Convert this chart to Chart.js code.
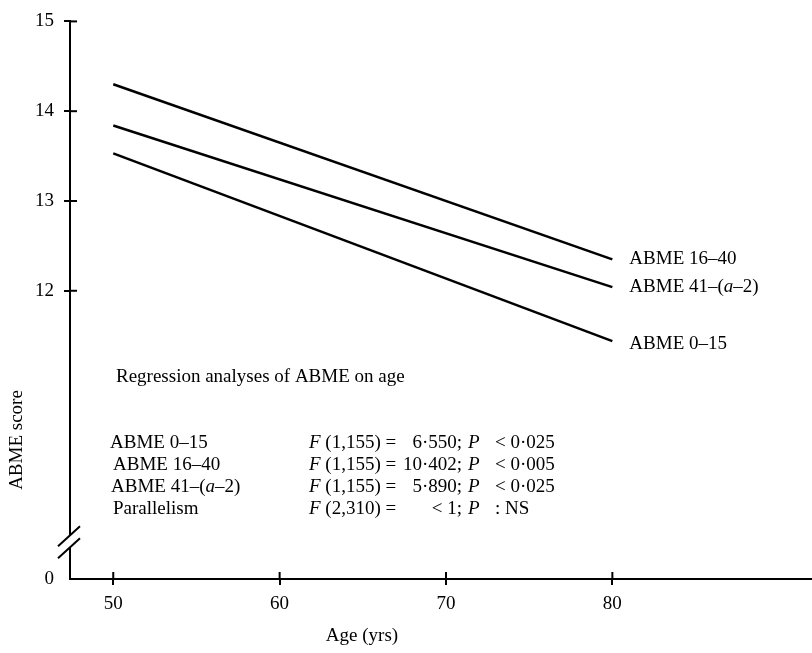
<!DOCTYPE html>
<html>
<head>
<meta charset="utf-8">
<script src="https://cdn.jsdelivr.net/npm/chart.js@4"></script>
<style>
  html, body { margin: 0; padding: 0; background: #fff; }
  #wrap { width: 812px; height: 653px; }
</style>
</head>
<body>
<div id="wrap"><canvas id="myChart" width="812" height="653"></canvas></div>
<script>
var ctx = document.getElementById('myChart').getContext('2d');

// Data
var ages = [50, 80];
var abme16_40 = [14.30, 12.35];
var abme41 = [13.84, 12.04];
var abme0_15 = [13.53, 11.44];

var seriesNames = ['ABME 16–40', 'ABME 41–(a–2)', 'ABME 0–15'];
var xTicks = [50, 60, 70, 80];
var yTicks = [12, 13, 14, 15];
var yBottom = 8.79;   // shown as "0" below the axis break
var yBreak = 9.2;

// Regression table
var tableNames = ['ABME 0–15', 'ABME 16–40', 'ABME 41–(a–2)', 'Parallelism'];
var tableDf = ['(1,155)', '(1,155)', '(1,155)', '(2,310)'];
var tableF = ['6·550;', '10·402;', '5·890;', '< 1;'];
var tableP = ['< 0·025', '< 0·005', '< 0·025', ': NS'];

var FONT = '"Liberation Serif", "DejaVu Serif", serif';
var SIZE = 19;

function toPoints(ys) {
    return ages.map(function (a, i) { return { x: a, y: ys[i] }; });
}

function lineSet(label, ys) {
    return {
        label: label,
        data: toPoints(ys),
        borderColor: '#000',
        borderWidth: 2.5,
        pointRadius: 0,
        fill: false,
        tension: 0
    };
}

// draws text made of [text, italic] runs, returns end x
function drawRuns(c, runs, x, y, size) {
    runs.forEach(function (r) {
        c.font = (r[1] ? 'italic ' : '') + size + 'px ' + FONT;
        c.fillText(r[0], x, y);
        x += c.measureText(r[0]).width;
    });
    return x;
}

function nameRuns(name) {
    if (name.indexOf('(a') >= 0) {
        return [['ABME 41–(', false], ['a', true], ['–2)', false]];
    }
    return [[name, false]];
}

// Extra drawing: crossing ticks, axis break, labels and table
var decorations = {
    id: 'decorations',
    afterDraw: function (chart) {
        var c = chart.ctx;
        var xs = chart.scales.x, ys = chart.scales.y;
        var area = chart.chartArea;
        c.save();
        c.strokeStyle = '#000';
        c.lineWidth = 2;

        // inner half of tick marks
        yTicks.forEach(function (v) {
            var py = ys.getPixelForValue(v);
            c.beginPath(); c.moveTo(area.left, py); c.lineTo(area.left + 7, py); c.stroke();
        });
        xTicks.forEach(function (v) {
            var px = xs.getPixelForValue(v);
            c.beginPath(); c.moveTo(px, area.bottom); c.lineTo(px, area.bottom - 7); c.stroke();
        });

        // axis break
        var by = ys.getPixelForValue(yBreak);
        var ax = area.left;
        c.fillStyle = '#fff';
        c.beginPath();
        c.moveTo(ax - 12, by + 4); c.lineTo(ax + 10, by - 16);
        c.lineTo(ax + 10, by - 4); c.lineTo(ax - 12, by + 16);
        c.closePath(); c.fill();
        c.beginPath();
        c.moveTo(ax - 12, by + 4); c.lineTo(ax + 10, by - 16);
        c.moveTo(ax - 12, by + 16); c.lineTo(ax + 10, by - 4);
        c.stroke();

        c.fillStyle = '#000';
        c.textBaseline = 'middle';
        c.textAlign = 'left';

        // series labels at line ends
        var ends = [abme16_40, abme41, abme0_15];
        var lx = xs.getPixelForValue(ages[ages.length - 1]) + 17;
        seriesNames.forEach(function (n, i) {
            var vals = ends[i];
            var py = ys.getPixelForValue(vals[vals.length - 1]);
            if (i === 2) py += 3;
            drawRuns(c, nameRuns(n), lx, py, SIZE);
        });

        // regression table
        c.font = SIZE + 'px ' + FONT;
        c.fillText('Regression analyses of ABME on age', 116, 377);
        var rowY = [443, 465, 487, 509];
        var nameX = [110, 113, 111, 113];
        var fEnd = 462;
        tableNames.forEach(function (n, i) {
            drawRuns(c, nameRuns(n), nameX[i], rowY[i], SIZE);
            drawRuns(c, [['F', true], [' ' + tableDf[i] + ' =', false]], 309, rowY[i], SIZE);
            c.font = SIZE + 'px ' + FONT;
            var w = c.measureText(tableF[i]).width;
            c.fillText(tableF[i], fEnd - w, rowY[i]);
            drawRuns(c, [['P', true]], fEnd + 6, rowY[i], SIZE);
            drawRuns(c, [[tableP[i], false]], fEnd + 33, rowY[i], SIZE);
        });

        // axis titles
        c.font = SIZE + 'px ' + FONT;
        c.textAlign = 'center';
        c.fillText('Age (yrs)', 362, 636);
        c.translate(17, 440);
        c.rotate(-Math.PI / 2);
        c.fillText('ABME score', 0, 0);
        c.restore();
    }
};

var myChart = new Chart(ctx, {
    type: 'line',
    data: {
        datasets: [
            lineSet(seriesNames[0], abme16_40),
            lineSet(seriesNames[1], abme41),
            lineSet(seriesNames[2], abme0_15)
        ]
    },
    options: {
        responsive: false,
        animation: false,
        layout: { padding: { top: 14, left: 0, right: 0, bottom: 0 } },
        plugins: {
            legend: { display: false },
            tooltip: { enabled: false }
        },
        scales: {
            x: {
                type: 'linear',
                min: 47.4,
                max: 92,
                afterFit: function (s) { s.height = 74; },
                afterBuildTicks: function (s) {
                    s.ticks = xTicks.map(function (v) { return { value: v }; });
                },
                grid: { drawOnChartArea: false, tickLength: 6, color: '#000', lineWidth: 2 },
                border: { color: '#000', width: 2 },
                ticks: {
                    color: '#000',
                    padding: 8,
                    maxRotation: 0,
                    font: { family: FONT, size: SIZE }
                }
            },
            y: {
                type: 'linear',
                min: yBottom,
                max: 15,
                afterFit: function (s) { s.width = 70; },
                afterBuildTicks: function (s) {
                    s.ticks = [yBottom].concat(yTicks).map(function (v) { return { value: v }; });
                },
                grid: {
                    drawOnChartArea: false,
                    tickLength: 6,
                    lineWidth: 2,
                    color: function (c) { return c.tick && c.tick.value === yBottom ? 'rgba(0,0,0,0)' : '#000'; }
                },
                border: { color: '#000', width: 2 },
                ticks: {
                    color: '#000',
                    padding: 10,
                    font: { family: FONT, size: SIZE },
                    callback: function (v) { return v === yBottom ? '0' : v; }
                }
            }
        }
    },
    plugins: [decorations]
});
</script>
</body>
</html>
